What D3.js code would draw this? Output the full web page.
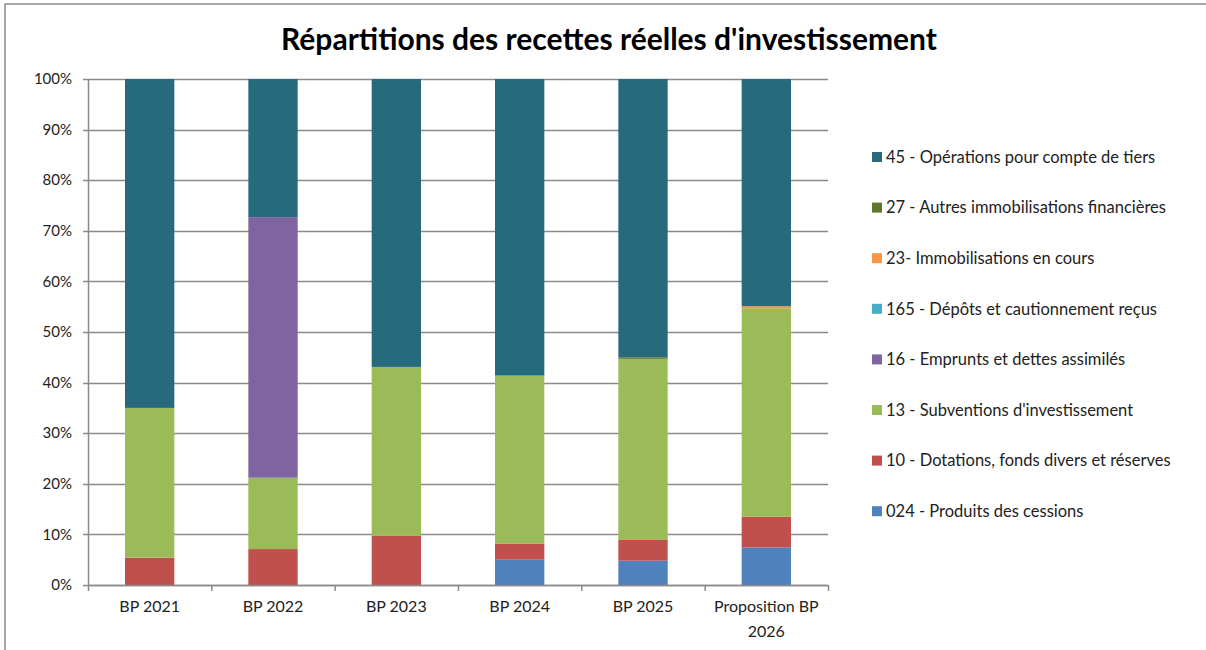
<!DOCTYPE html>
<html>
<head>
<meta charset="utf-8">
<script src="https://cdn.jsdelivr.net/npm/d3@7"></script>
<style>
  body { margin: 0; background: #fff; }
  svg { display: block; font-family: Lato, "Open Sans", sans-serif; }
</style>
</head>
<body>
<div id="chart"></div>
<script>
// Data (share of each account in the real investment receipts, %)
var categories = ["BP 2021", "BP 2022", "BP 2023", "BP 2024", "BP 2025", "Proposition BP 2026"];
var s024 = [0, 0, 0, 5.0, 4.8, 7.4];
var s10 = [5.4, 7.1, 9.7, 3.2, 4.1, 6.1];
var s13 = [29.6, 14.1, 33.4, 33.1, 35.8, 41.2];
var s16 = [0, 51.5, 0, 0, 0, 0];
var s165 = [0, 0, 0, 0.2, 0, 0];
var s23 = [0, 0, 0, 0, 0, 0.4];
var s27 = [0, 0, 0, 0, 0.3, 0];
var s45 = [65.0, 27.3, 56.9, 58.5, 55.0, 44.9];
var seriesNames = ["024 - Produits des cessions", "10 - Dotations, fonds divers et réserves",
    "13 - Subventions d'investissement", "16 - Emprunts et dettes assimilés",
    "165 - Dépôts et cautionnement reçus", "23- Immobilisations en cours",
    "27 - Autres immobilisations financières", "45 - Opérations pour compte de tiers"];
var seriesValues = [s024, s10, s13, s16, s165, s23, s27, s45];
var seriesColors = ["#4F81BD", "#C0504D", "#9BBB59", "#8064A2", "#4BACC6", "#F79646", "#5F7530", "#276A7C"];
var yTicks = [0, 0.1, 0.2, 0.3, 0.4, 0.5, 0.6, 0.7, 0.8, 0.9, 1];

var W = 1206, H = 650;
var margin = { left: 88, top: 79 };
var plotW = 740, plotH = 506;

// build rows for d3.stack
var rows = categories.map(function (c, i) {
    var r = { category: c };
    seriesNames.forEach(function (s, j) { r[s] = seriesValues[j][i]; });
    return r;
});
var stacked = d3.stack().keys(seriesNames).offset(d3.stackOffsetExpand)(rows);

var svg = d3.select("#chart").append("svg")
    .attr("width", W).attr("height", H);

// outer chart border
svg.append("rect")
    .attr("x", 5).attr("y", 4)
    .attr("width", W + 10).attr("height", H + 10)
    .attr("fill", "none")
    .attr("stroke", "#8c8c8c")
    .attr("stroke-width", 1.5);

svg.append("text")
    .attr("x", 609).attr("y", 50)
    .attr("text-anchor", "middle")
    .attr("font-size", "30px")
    .attr("font-weight", "bold")
    .attr("fill", "#000")
    .text("Répartitions des recettes réelles d'investissement");

var g = svg.append("g").attr("transform", "translate(" + margin.left + "," + margin.top + ")");

var x = d3.scaleBand().domain(categories).range([0, plotW]).paddingInner(0.6).paddingOuter(0.3);
var xOuter = d3.scaleBand().domain(categories).range([0, plotW]);
var y = d3.scaleLinear().domain([0, 1]).range([plotH, 0]);

// gridlines
g.selectAll(".grid")
    .data(yTicks)
    .enter().append("line")
    .attr("class", "grid")
    .attr("x1", -5).attr("x2", plotW)
    .attr("y1", function (d) { return Math.round(y(d)) + 0.5; })
    .attr("y2", function (d) { return Math.round(y(d)) + 0.5; })
    .attr("stroke", "#8a8a8a")
    .attr("stroke-width", 1.3);

// y labels
g.selectAll(".ylab")
    .data(yTicks)
    .enter().append("text")
    .attr("x", -16)
    .attr("y", function (d) { return y(d); })
    .attr("dy", "0.35em")
    .attr("text-anchor", "end")
    .attr("font-size", "15px")
    .attr("fill", "#222")
    .text(function (d) { return d3.format(".0%")(d); });

// bars
var layer = g.selectAll(".layer")
    .data(stacked)
    .enter().append("g")
    .attr("class", "layer")
    .attr("fill", function (d, i) { return seriesColors[i]; });

layer.selectAll("rect")
    .data(function (d) { return d; })
    .enter().append("rect")
    .attr("x", function (d) { return x(d.data.category); })
    .attr("width", x.bandwidth())
    .attr("y", function (d) { return y(d[1]); })
    .attr("height", function (d) { return y(d[0]) - y(d[1]); });

// axes lines
g.append("line")
    .attr("x1", 0.5).attr("x2", 0.5).attr("y1", 0).attr("y2", plotH)
    .attr("stroke", "#8a8a8a").attr("stroke-width", 1.5);
g.append("line")
    .attr("x1", 0).attr("x2", plotW).attr("y1", plotH + 0.5).attr("y2", plotH + 0.5)
    .attr("stroke", "#8a8a8a").attr("stroke-width", 1.5);

// x ticks at band boundaries
var bounds = categories.map(function (c) { return xOuter(c); }).concat([plotW]);
g.selectAll(".xtick")
    .data(bounds)
    .enter().append("line")
    .attr("x1", function (d) { return d + 0.5; })
    .attr("x2", function (d) { return d + 0.5; })
    .attr("y1", plotH).attr("y2", plotH + 6)
    .attr("stroke", "#8a8a8a").attr("stroke-width", 1.5);

// x labels (wrapped)
g.selectAll(".xlab")
    .data(categories)
    .enter().append("text")
    .attr("class", "xlab")
    .attr("text-anchor", "middle")
    .attr("font-size", "16px")
    .attr("fill", "#222")
    .each(function (d) {
        var t = d3.select(this);
        var cx = xOuter(d) + xOuter.bandwidth() / 2;
        var lines = d.length > 12 ? [d.slice(0, d.lastIndexOf(" ")), d.slice(d.lastIndexOf(" ") + 1)] : [d];
        lines.forEach(function (l, i) {
            t.append("tspan").attr("x", cx).attr("y", 533 + i * 25).text(l);
        });
    });

// legend (top item = last series)
var legend = svg.selectAll(".legend")
    .data(seriesNames.slice().reverse())
    .enter().append("g")
    .attr("class", "legend")
    .attr("transform", function (d, i) { return "translate(872," + (157 + i * 50.6) + ")"; });

legend.append("rect")
    .attr("x", 0).attr("y", -5)
    .attr("width", 10).attr("height", 10)
    .attr("fill", function (d) { return seriesColors[seriesNames.indexOf(d)]; });

legend.append("text")
    .attr("x", 14).attr("y", 0)
    .attr("dy", "0.35em")
    .attr("font-size", "16.5px")
    .attr("fill", "#222")
    .text(function (d) { return d; });
</script>
</body>
</html>
